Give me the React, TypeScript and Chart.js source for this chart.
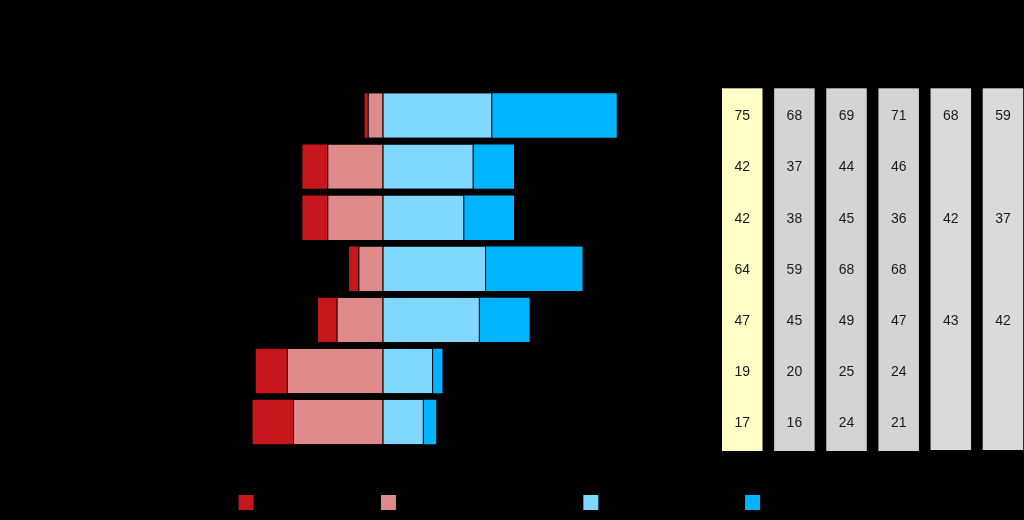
import React, { useEffect, useRef } from 'react';
import { Chart, registerables } from 'chart.js';

Chart.register(...registerables);

// ---- data ----
const categories = ['Category 1', 'Category 2', 'Category 3', 'Category 4', 'Category 5', 'Category 6', 'Category 7'];
const veryUnfavorable = [1, 8, 8, 3, 6, 10, 13];
const somewhatUnfavorable = [5, 18, 18, 8, 15, 31, 29];
const somewhatFavorable = [35, 29, 26, 33, 31, 16, 13];
const veryFavorable = [40, 13, 16, 31, 16, 3, 4];

const seriesLabels = ['Very unfavorable', 'Somewhat unfavorable view', 'Somewhat favorable', 'Very favorable'];

const tableHeaders = ['2019', '2018', '2017', '2016', '2015', '2014'];
const fav2019 = [75, 42, 42, 64, 47, 19, 17];
const fav2018 = [68, 37, 38, 59, 45, 20, 16];
const fav2017 = [69, 44, 45, 68, 49, 25, 24];
const fav2016 = [71, 46, 36, 68, 47, 24, 21];
const fav2015 = [68, null, 42, null, 43, null, null];
const fav2014 = [59, null, 37, null, 42, null, null];

const tableColumns = [fav2019, fav2018, fav2017, fav2016, fav2015, fav2014];
const tableFills = ['#FFFFC8', '#D4D4D4', '#D4D4D4', '#D4D4D4', '#DADADA', '#DADADA'];

const FONT = '"Liberation Sans", Arial, sans-serif';

const tablePlugin = {
  id: 'favTable',
  afterDraw(chart: any) {
    const { ctx, chartArea } = chart;
    const yScale = chart.scales.y;
    const left0 = chartArea.right + 89.7;
    const step = 52.14;
    const w = 40.5;
    ctx.save();
    tableColumns.forEach((col, ci) => {
      const x = left0 + ci * step;
      const top = chartArea.top - 1.7;
      const bottom = chartArea.bottom + (ci >= 4 ? 2.4 : 3.4);
      ctx.fillStyle = tableFills[ci];
      ctx.fillRect(x, top, w, bottom - top);
      ctx.font = '14px ' + FONT;
      ctx.textAlign = 'center';
      ctx.textBaseline = 'middle';
      ctx.fillStyle = '#1a1a1a';
      col.forEach((v, i) => {
        if (v === null || v === undefined) return;
        ctx.fillText(String(v), x + w / 2, yScale.getPixelForValue(i) + 1);
      });
      ctx.fillStyle = '#000000';
      ctx.font = 'bold 12px ' + FONT;
      ctx.fillText(tableHeaders[ci], x + w / 2, top - 14);
    });
    ctx.restore();
  },
};

const legendRank: Record<number, number> = { 1: 0, 0: 1, 2: 2, 3: 3 };

export default function App() {
  const ref = useRef<HTMLCanvasElement | null>(null);

  useEffect(() => {
    if (!ref.current) return;
    const neg = (arr: number[]) => arr.map((v) => -v);
    const chart = new Chart(ref.current, {
      type: 'bar',
      data: {
        labels: categories,
        datasets: [
          {
            label: seriesLabels[1],
            data: neg(somewhatUnfavorable),
            backgroundColor: '#E08B8B',
            borderColor: '#000000',
            borderWidth: { left: 1, right: 1, top: 0, bottom: 0 },
            borderSkipped: false,
          },
          {
            label: seriesLabels[0],
            data: neg(veryUnfavorable),
            backgroundColor: '#C8171C',
            borderWidth: 0,
          },
          {
            label: seriesLabels[2],
            data: somewhatFavorable,
            backgroundColor: '#80D8FF',
            borderColor: '#000000',
            borderWidth: { left: 0, right: 1, top: 0, bottom: 0 },
            borderSkipped: false,
          },
          {
            label: seriesLabels[3],
            data: veryFavorable,
            backgroundColor: '#00B4FF',
            borderWidth: 0,
          },
        ] as any,
      },
      options: {
        indexAxis: 'y',
        responsive: false,
        animation: false,
        layout: { padding: { left: 57.35, right: 0, top: 50.8, bottom: 0 } },
        datasets: {
          bar: { barPercentage: 0.87, categoryPercentage: 1 },
        },
        scales: {
          x: {
            type: 'linear',
            stacked: true,
            min: -50,
            max: 80,
            grid: { display: false },
            border: { display: false },
            ticks: { color: '#000000', font: { family: FONT, size: 11 } },
            afterFit: (s: any) => {
              s.height = 16.1;
            },
          },
          y: {
            type: 'category',
            stacked: true,
            grid: { display: false },
            border: { display: false },
            ticks: { color: '#000000', font: { family: FONT, size: 13 } },
            afterFit: (s: any) => {
              s.width = 170.35;
            },
          },
          y2: {
            type: 'category',
            position: 'right',
            grid: { display: false },
            border: { display: false },
            ticks: { display: false },
            afterFit: (s: any) => {
              s.width = 391.7;
            },
          },
        },
        plugins: {
          title: {
            display: true,
            text: 'Favorability ratings',
            color: '#000000',
            font: { family: FONT, size: 16, weight: 'bold' },
            padding: 10,
          },
          legend: {
            position: 'bottom',
            labels: {
              color: '#000000',
              font: { family: FONT, size: 12 },
              boxWidth: 15,
              boxHeight: 15,
              padding: 31.3,
              generateLabels: (c: any) => {
                const items = (Chart.defaults.plugins.legend.labels as any).generateLabels(c);
                items.forEach((it: any) => {
                  it.lineWidth = 0;
                  it.strokeStyle = 'rgba(0,0,0,0)';
                });
                return items;
              },
              sort: (a: any, b: any) => legendRank[a.datasetIndex] - legendRank[b.datasetIndex],
            },
          },
          tooltip: { enabled: false },
        },
      } as any,
      plugins: [tablePlugin],
    });
    return () => chart.destroy();
  }, []);

  return (
    <div style={{ position: 'fixed', left: 0, top: 0, width: 1024, height: 520, background: '#000000' }}>
      <canvas ref={ref} width={1024} height={520} style={{ display: 'block' }} />
    </div>
  );
}
